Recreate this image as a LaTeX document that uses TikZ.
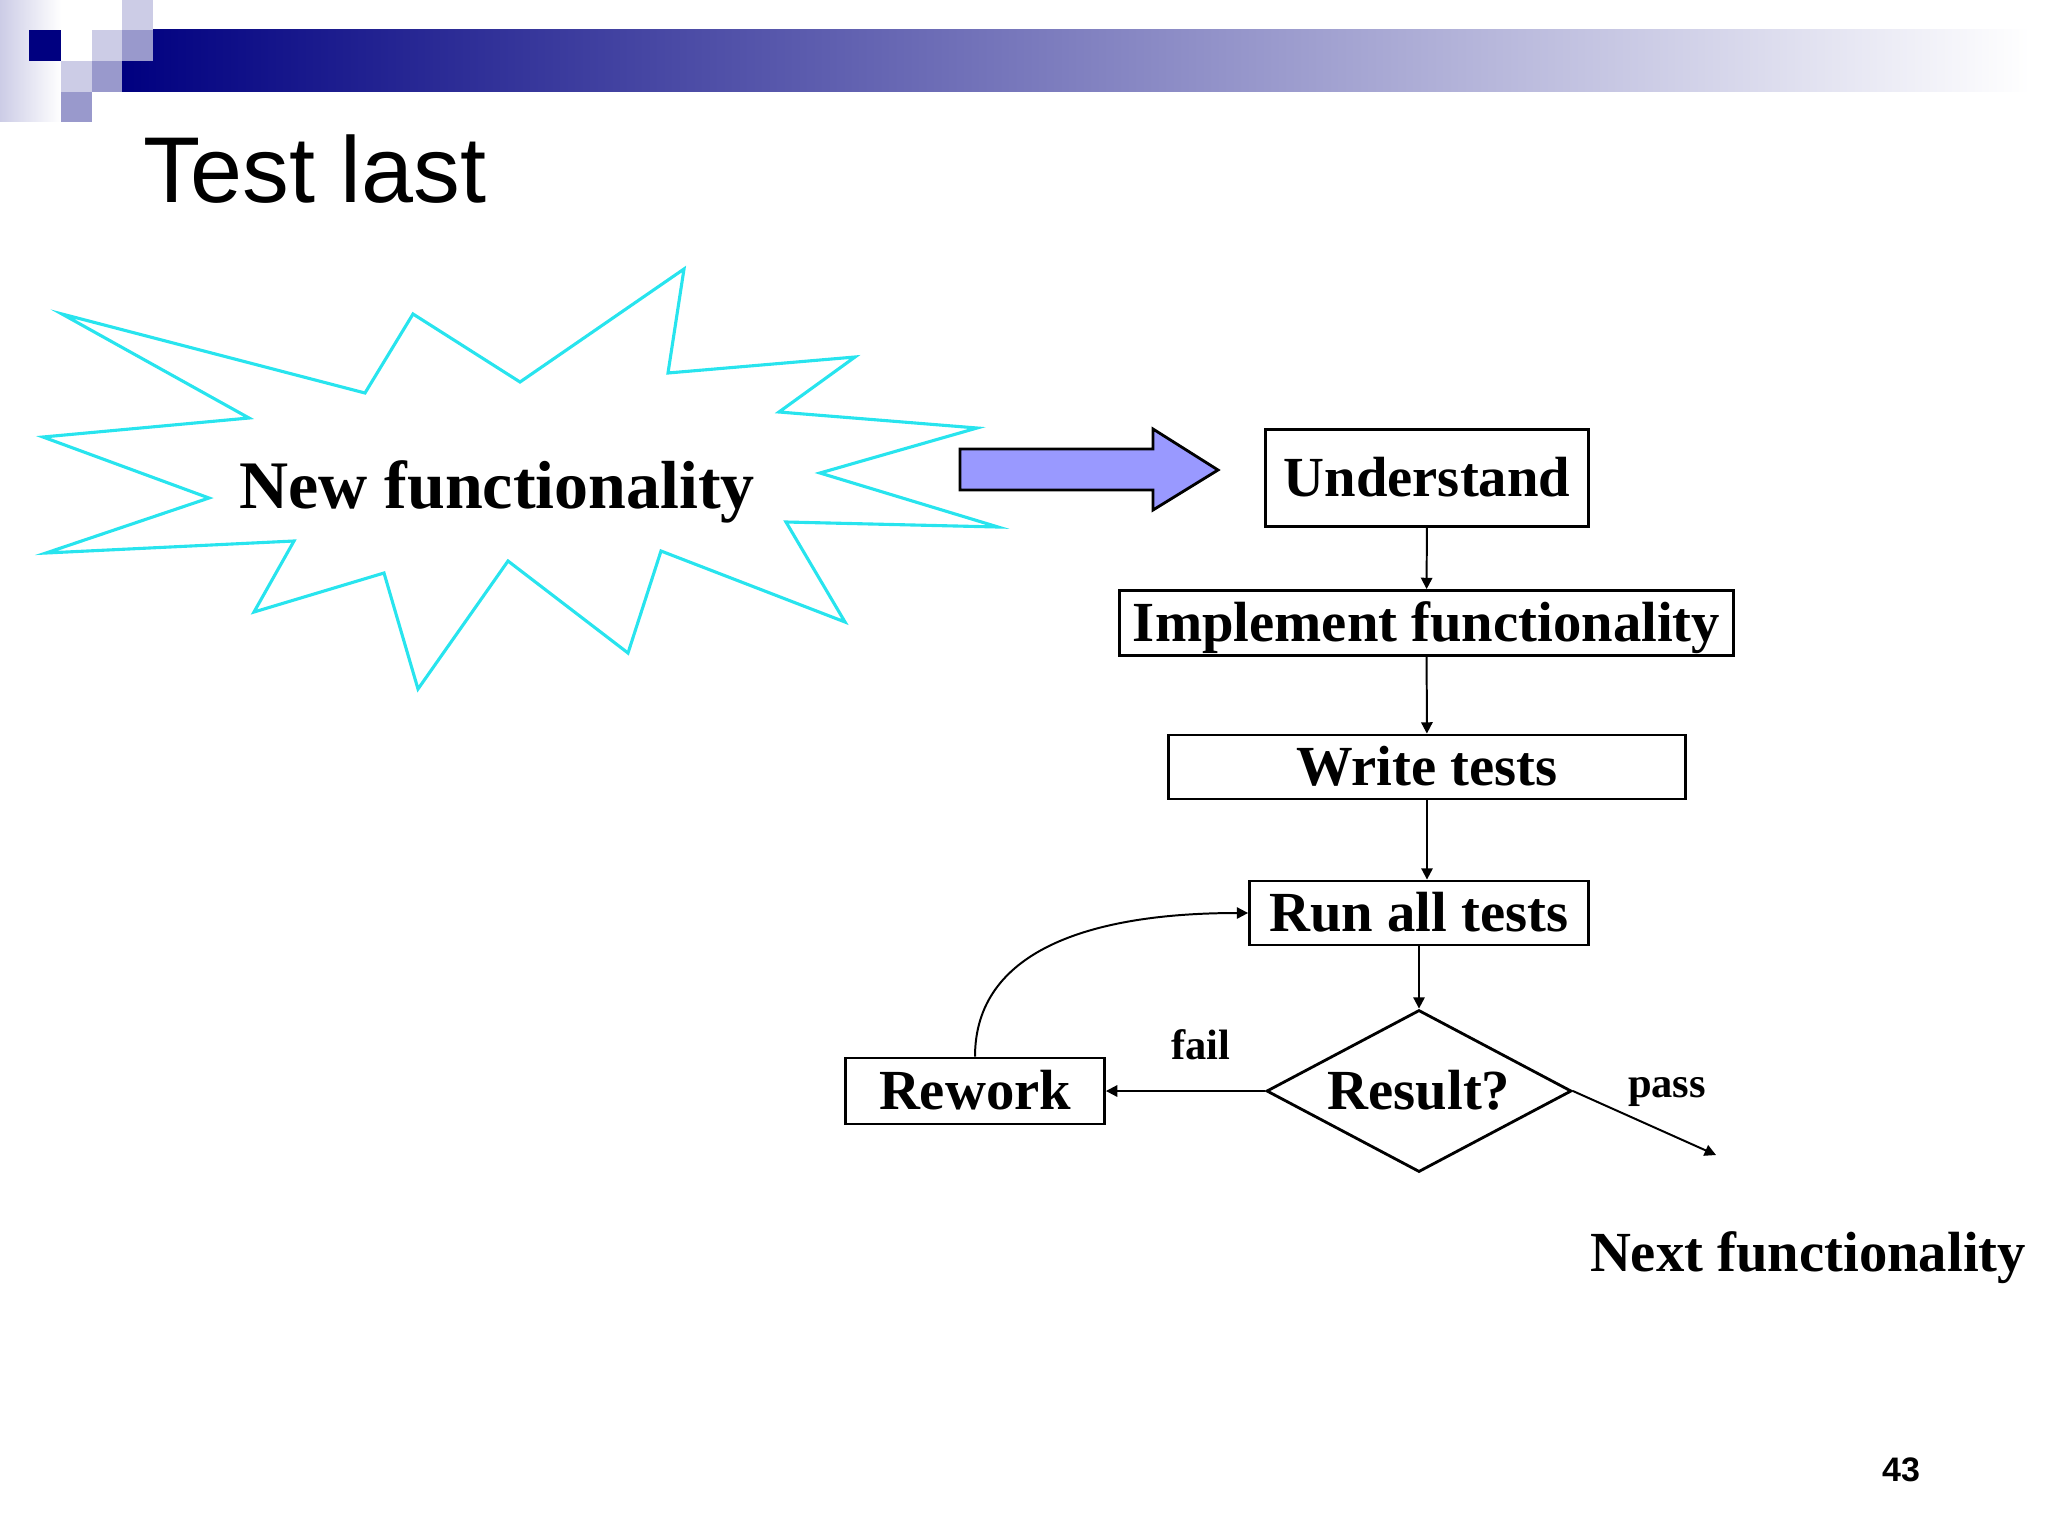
\documentclass[tikz,border=0pt]{standalone}
\usepackage{fontspec}
\setmainfont{Liberation Serif}
\setsansfont{Liberation Sans}
\usetikzlibrary{shapes.geometric,arrows.meta}
\newdimen\unitpx \unitpx=0.0124023cm
\definecolor{barnavy}{RGB}{0,0,128}
\definecolor{sqlight}{RGB}{204,204,230}
\definecolor{sqmid}{RGB}{153,153,204}
\definecolor{burstcyan}{RGB}{40,228,238}
\definecolor{arrowfill}{RGB}{153,153,255}
\tikzset{
  boxfont/.style={font=\fontsize{20}{24}\selectfont\bfseries, text height=13.2pt, text depth=0pt},
  stepbox/.style={draw, line width=1pt, inner sep=0pt, boxfont},
  decision/.style={diamond, draw, line width=1pt, inner sep=0pt, aspect=1.9, boxfont},
  flow/.style={-{Triangle[length=4pt,width=4pt]}, line width=0.7pt},
  edgelabel/.style={font=\fontsize{15}{18}\selectfont\bfseries, inner sep=0pt}
}
\begin{document}
\begin{tikzpicture}[x=0.0124023cm,y=-0.0124023cm]
\useasboundingbox (0,0) rectangle (2048,1536);
% header
\shade[left color=sqlight,right color=white] (0,0) rectangle (61,122);
\shade[left color=barnavy,right color=white] (122,30) rectangle (2030,92);
\fill[barnavy] (29,30) rectangle (61,61);
\fill[sqlight] (92,30) rectangle (122,61);
\fill[sqmid] (122,30) rectangle (153,61);
\fill[sqlight] (122,0) rectangle (153,30);
\fill[sqlight] (61,61) rectangle (92,92);
\fill[sqmid] (92,61) rectangle (122,92);
\fill[sqmid] (61,92) rectangle (92,122);
\node[anchor=base west, inner sep=0pt, font=\sffamily\fontsize{33}{39}\selectfont] (title) at (143,203) {Test last};
% burst
\draw[burstcyan, line width=1.1pt, line join=miter]
  (62,314) -- (365,393) -- (413,314) -- (520,382) -- (684,269) -- (668,373)
  -- (855,357) -- (779,412) -- (977,428) -- (820,473) -- (998,527) -- (786,522)
  -- (845,622) -- (661,551) -- (628,653) -- (508,561) -- (418,689) -- (384,573)
  -- (254,612) -- (294,541) -- (46,553) -- (209,498) -- (43,437) -- (249,418) -- cycle;
\node[anchor=base, inner sep=0pt, font=\fontsize{24}{29}\selectfont\bfseries] (newfunc) at (497,508) {New functionality};
% block arrow
\draw[fill=arrowfill, line width=1pt, line join=miter]
  (960,449) -- (1153,449) -- (1153,429) -- (1218,470) -- (1153,510) -- (1153,490) -- (960,490) -- cycle;
% flow chart
\node[stepbox, minimum width=323\unitpx, minimum height=97\unitpx] (understand) at (1427,478) {Understand};
\node[stepbox, minimum width=614\unitpx, minimum height=65\unitpx] (implement) at (1426.5,623) {Implement functionality};
\node[stepbox, minimum width=517\unitpx, minimum height=64\unitpx] (writetests) at (1427,767) {Write tests};
\node[stepbox, minimum width=339\unitpx, minimum height=64\unitpx] (runall) at (1419,913) {Run all tests};
\node[decision, minimum width=305\unitpx, minimum height=162\unitpx] (result) at (1419,1091) {Result?};
\node[stepbox, minimum width=259\unitpx, minimum height=66\unitpx] (rework) at (975,1091) {Rework};
\coordinate (passend) at (1716,1155);
\draw[flow] (understand) -- (implement);
\draw[flow] (implement) -- (writetests);
\draw[flow] (writetests.south) -- (writetests.south |- runall.north);
\draw[flow] (runall) -- (result);
\draw[flow] (result) -- (rework);
\draw[flow] (rework.north) .. controls +(0,-105) and +(-160,0) .. (runall.west);
\draw[flow] (result.east) -- (passend);
\node[edgelabel, anchor=base] (faillabel) at (1201,1059) {fail};
\node[edgelabel, anchor=base] (passlabel) at (1667,1097) {pass};
\node[anchor=base, inner sep=0pt, font=\fontsize{20}{24}\selectfont\bfseries] (nextfunc) at (1808,1271) {Next functionality};
\node[anchor=base, inner sep=0pt, font=\sffamily\bfseries\fontsize{12}{14}\selectfont] (pagenum) at (1901,1481) {43};
\end{tikzpicture}
\end{document}
